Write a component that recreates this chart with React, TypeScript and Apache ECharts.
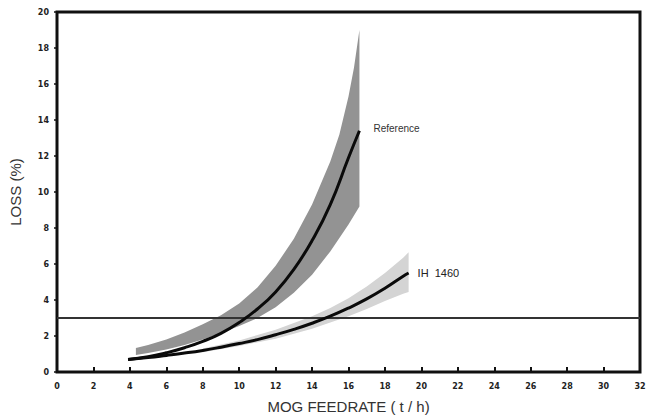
import React, { useEffect, useRef } from "react";
import * as echarts from "echarts";

// Central curves [feedrate t/h, loss %]
const referenceLine: number[][] = [
  [3.9, 0.7], [5, 0.85], [6, 1.07], [7, 1.35], [8, 1.7], [9, 2.15], [10, 2.75],
  [11, 3.5], [12, 4.45], [13, 5.7], [14, 7.3], [15, 9.3], [16, 11.9], [16.6, 13.4],
];
const ih1460Line: number[][] = [
  [3.9, 0.7], [5, 0.8], [6, 0.92], [7, 1.05], [8, 1.2], [9, 1.38], [10, 1.58],
  [11, 1.8], [12, 2.07], [13, 2.37], [14, 2.71], [15, 3.1], [16, 3.55],
  [17, 4.06], [18, 4.65], [19, 5.32], [19.3, 5.5],
];
// Confidence bands
const referenceUpper: number[][] = [
  [4.33, 1.33], [5, 1.5], [6, 1.8], [7, 2.2], [8, 2.65], [9, 3.15], [10, 3.8],
  [11, 4.7], [12, 5.9], [13, 7.4], [14, 9.3], [15, 11.7], [15.5, 13.2],
  [16, 15.3], [16.3, 16.9], [16.6, 19.0],
];
const referenceLower: number[][] = [
  [4.33, 0.94], [5, 1.05], [6, 1.25], [7, 1.5], [8, 1.8], [9, 2.15], [10, 2.55],
  [11, 3.0], [12, 3.6], [13, 4.4], [14, 5.4], [15, 6.7], [16, 8.2], [16.6, 9.2],
];
const ihUpper: number[][] = [
  [8, 1.3], [10, 1.75], [12, 2.35], [14, 3.1], [15, 3.55], [16, 4.1],
  [17, 4.75], [18, 5.5], [19, 6.35], [19.3, 6.65],
];
const ihLower: number[][] = [
  [8, 1.1], [10, 1.45], [12, 1.85], [14, 2.4], [15, 2.75], [16, 3.1],
  [17, 3.5], [18, 3.95], [19, 4.35], [19.3, 4.45],
];
const limitLine: number[][] = [[0, 3], [32, 3]];

const bandSeries = (upper: number[][], lower: number[][], color: string, z: number) => {
  const poly = [...upper, ...lower.slice().reverse()];
  return {
    type: "custom",
    z,
    silent: true,
    data: [0],
    renderItem: (_params: any, api: any) => ({
      type: "polygon",
      shape: { points: poly.map((p) => api.coord(p)) },
      style: { fill: color },
    }),
  };
};

export default function App() {
  const ref = useRef<HTMLDivElement>(null);
  useEffect(() => {
    if (!ref.current) return;
    const chart = echarts.init(ref.current, null, { renderer: "svg" });
    const tickFont = {
      fontFamily: "DejaVu Sans",
      fontWeight: "bold" as const,
      fontSize: 8,
      color: "#222",
    };
    chart.setOption({
      animation: false,
      backgroundColor: "#fff",
      grid: {
        left: 54,
        right: 12,
        top: 12,
        bottom: 42,
        show: true,
        borderColor: "#111",
        borderWidth: 3,
      },
      xAxis: {
        type: "value",
        min: 0,
        max: 32,
        interval: 2,
        offset: 5,
        name: "MOG FEEDRATE ( t / h)",
        nameLocation: "middle",
        nameGap: 22,
        nameTextStyle: { fontFamily: "Liberation Sans", fontSize: 15, color: "#333" },
        axisLine: { show: true, lineStyle: { color: "#111", width: 1.5 } },
        axisTick: { show: true, inside: true, length: 5, lineStyle: { color: "#111", width: 2 } },
        axisLabel: { ...tickFont, margin: 5 },
        splitLine: { show: false },
      },
      yAxis: {
        type: "value",
        min: 0,
        max: 20,
        interval: 2,
        offset: 4,
        name: "LOSS (%)",
        nameLocation: "middle",
        nameGap: 30,
        nameTextStyle: { fontFamily: "Liberation Sans", fontSize: 15, color: "#333" },
        axisLine: { show: true, lineStyle: { color: "#111", width: 1.5 } },
        axisTick: { show: true, inside: false, length: 3, lineStyle: { color: "#111", width: 1.5 } },
        axisLabel: { ...tickFont, margin: 4 },
        splitLine: { show: false },
      },
      series: [
        bandSeries(referenceUpper, referenceLower, "#939393", 1),
        bandSeries(ihUpper, ihLower, "#d4d4d4", 1),
        {
          type: "line",
          data: limitLine,
          showSymbol: false,
          silent: true,
          z: 2,
          lineStyle: { color: "#333", width: 2 },
        },
        {
          type: "line",
          data: referenceLine,
          showSymbol: false,
          smooth: true,
          silent: true,
          z: 3,
          lineStyle: { color: "#0a0a0a", width: 3 },
          endLabel: {
            show: true,
            formatter: "Reference",
            distance: 14,
            offset: [0, -2],
            fontFamily: "Liberation Sans",
            fontSize: 10,
            color: "#333",
          },
        },
        {
          type: "line",
          data: ih1460Line,
          showSymbol: false,
          smooth: true,
          silent: true,
          z: 3,
          lineStyle: { color: "#0a0a0a", width: 3 },
          endLabel: {
            show: true,
            formatter: "IH  1460",
            distance: 9,
            fontFamily: "Liberation Sans",
            fontSize: 11,
            color: "#222",
          },
        },
      ],
    });
    return () => chart.dispose();
  }, []);
  return <div ref={ref} style={{ width: 652, height: 419, position: "absolute", left: 0, top: 0 }} />;
}
